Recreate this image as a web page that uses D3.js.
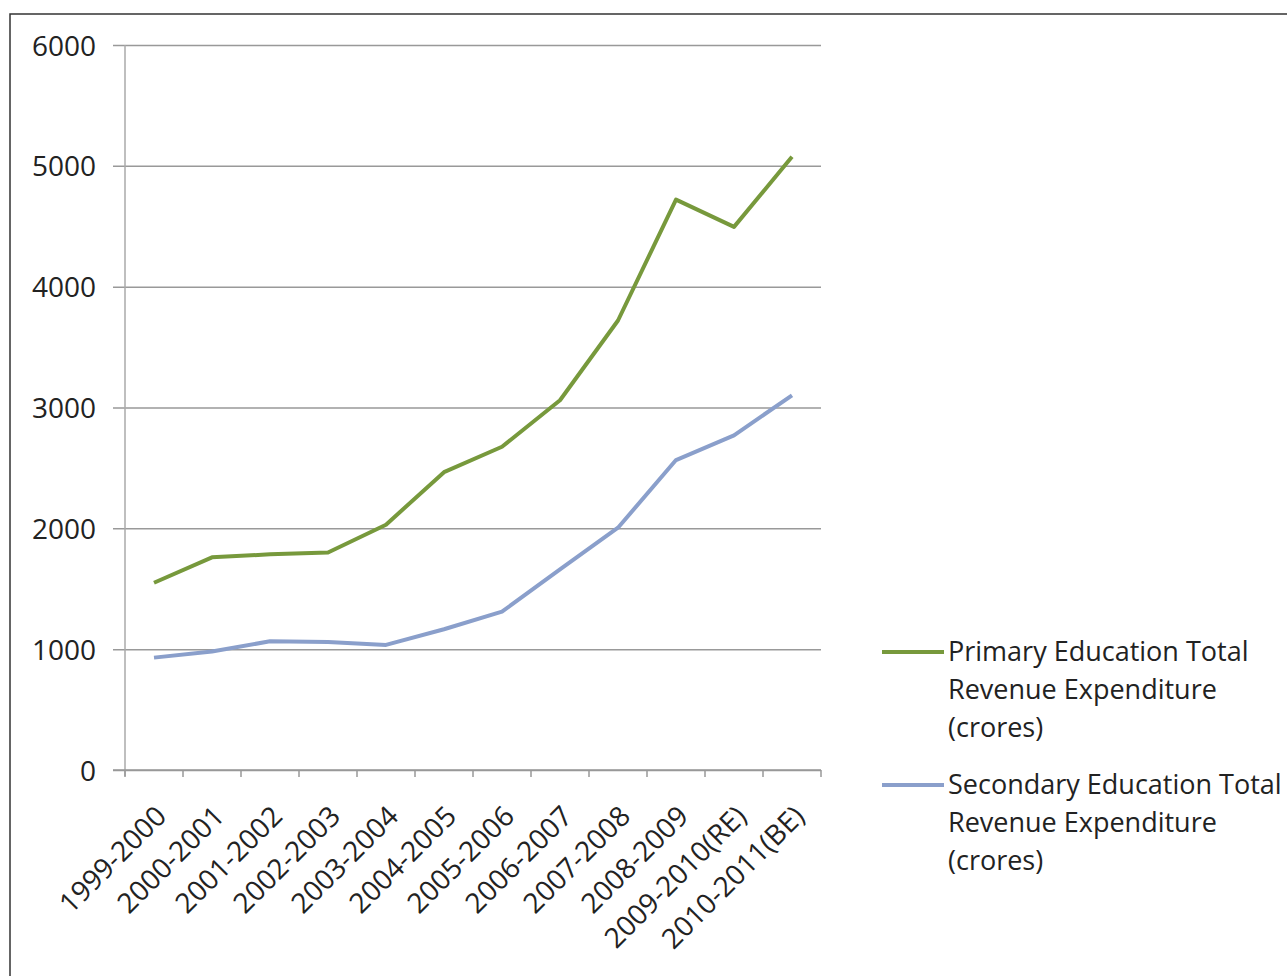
<!DOCTYPE html>
<html>
<head>
<meta charset="utf-8">
<script src="https://cdn.jsdelivr.net/npm/d3@7"></script>
<style>
  body { margin: 0; background: #fff; }
  text { font-family: "Open Sans", sans-serif; fill: #222; }
</style>
</head>
<body>
<svg id="chart" width="1287" height="976"></svg>
<script>
var years = ["1999-2000", "2000-2001", "2001-2002", "2002-2003", "2003-2004", "2004-2005",
    "2005-2006", "2006-2007", "2007-2008", "2008-2009", "2009-2010(RE)", "2010-2011(BE)"];
var primary = [1550, 1760, 1785, 1800, 2030, 2465, 2675, 3060, 3720, 4720, 4495, 5075];
var secondary = [930, 980, 1065, 1060, 1035, 1165, 1310, 1660, 2005, 2565, 2770, 3100];
var yTicks = [0, 1000, 2000, 3000, 4000, 5000, 6000];
var seriesNames = [
    ["Primary Education Total", "Revenue Expenditure", "(crores)"],
    ["Secondary Education Total", "Revenue Expenditure", "(crores)"]
];
var colors = ["#77993c", "#8a9fcb"];

var svg = d3.select("#chart");

// outer frame (only left and top edges fall inside the picture)
svg.append("rect")
    .attr("x", 10).attr("y", 14)
    .attr("width", 1300).attr("height", 1000)
    .attr("fill", "none").attr("stroke", "#333").attr("stroke-width", 1.5);

var plotL = 125, plotR = 821, plotT = 45, plotB = 770;

var x = d3.scaleBand().domain(years).range([plotL, plotR]);
var y = d3.scaleLinear().domain([0, 6000]).range([plotB, plotT]);

// gridlines + y labels
var yAxis = d3.axisLeft(y)
    .tickValues(yTicks)
    .tickFormat(d3.format("d"))
    .tickSize(-(plotR - plotL));
var gy = svg.append("g").attr("transform", `translate(${plotL},0)`).call(yAxis);
gy.select(".domain").remove();
gy.selectAll(".tick line")
    .attr("x1", -12)
    .attr("stroke", "#999").attr("stroke-width", 1.5);
gy.selectAll(".tick text")
    .attr("x", -29)
    .attr("dy", "0.36em")
    .style("font-size", "28px")
    .style("font-family", "'Open Sans', sans-serif")
    .attr("fill", "#222");

// y axis line
svg.append("line")
    .attr("x1", plotL).attr("x2", plotL)
    .attr("y1", plotT).attr("y2", plotB + 6)
    .attr("stroke", "#aaa").attr("stroke-width", 1.5);

// x axis with ticks between categories
var gx = svg.append("g").attr("transform", `translate(0,${plotB})`);
gx.append("line")
    .attr("x1", plotL - 12).attr("x2", plotR)
    .attr("stroke", "#999").attr("stroke-width", 1.5);
gx.selectAll(".xt")
    .data(years.concat(["end"]))
    .enter().append("line")
    .attr("class", "xt")
    .attr("x1", (d, i) => plotL + i * x.bandwidth())
    .attr("x2", (d, i) => plotL + i * x.bandwidth())
    .attr("y1", 0).attr("y2", 7)
    .attr("stroke", "#999").attr("stroke-width", 1.5);

gx.selectAll(".xl")
    .data(years)
    .enter().append("text")
    .attr("class", "xl")
    .attr("text-anchor", "end")
    .attr("transform", d => `translate(${x(d) + x.bandwidth() / 2 + 14},${48}) rotate(-45)`)
    .style("font-size", "28px")
    .text(d => d);

// series lines
var line = d3.line()
    .x((d, i) => x(years[i]) + x.bandwidth() / 2)
    .y(d => y(d));

[primary, secondary].forEach(function (s, k) {
    svg.append("path")
        .datum(s)
        .attr("d", line)
        .attr("fill", "none")
        .attr("stroke", colors[k])
        .attr("stroke-width", 4)
        .attr("stroke-linejoin", "round");
});

// legend
var legendY = [652, 785];
seriesNames.forEach(function (lines, k) {
    var g = svg.append("g");
    g.append("line")
        .attr("x1", 882).attr("x2", 944)
        .attr("y1", legendY[k]).attr("y2", legendY[k])
        .attr("stroke", colors[k]).attr("stroke-width", 4);
    g.selectAll("text")
        .data(lines)
        .enter().append("text")
        .attr("x", 948)
        .attr("y", (d, i) => legendY[k] + 9 + i * 38)
        .style("font-size", "27px")
        .text(d => d);
});
</script>
</body>
</html>
